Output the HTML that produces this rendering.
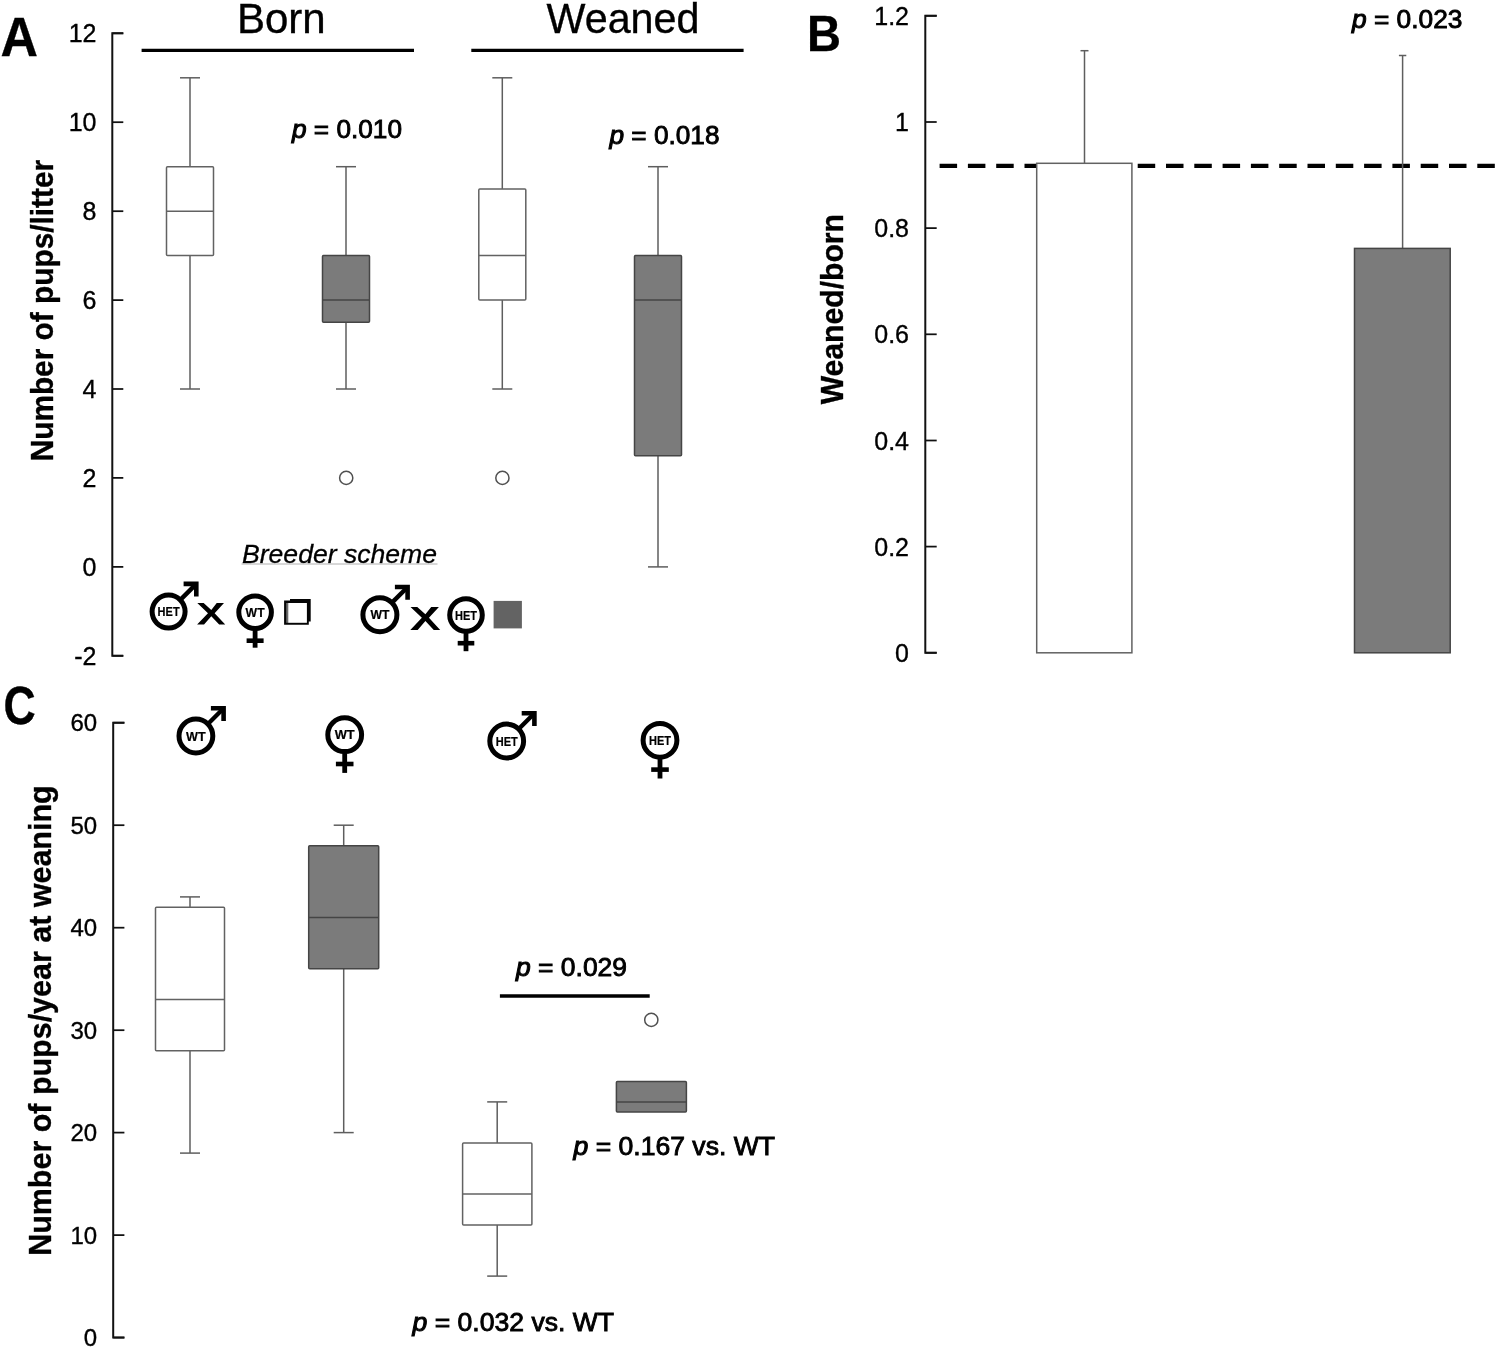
<!DOCTYPE html><html><head><meta charset="utf-8"><style>html,body{margin:0;padding:0;background:#fff;}svg{display:block;will-change:transform;}text{font-family:"Liberation Sans", sans-serif;fill:#000;stroke:#000;stroke-width:0.35px;}</style></head><body>
<svg width="1500" height="1351" viewBox="0 0 1500 1351">
<rect width="1500" height="1351" fill="#fff"/>
<text x="0.6" y="55.6" font-size="55" font-weight="bold" textLength="37.5" lengthAdjust="spacingAndGlyphs">A</text>
<path d="M123.3,33.3 H112.3 V655.8 H123.3" fill="none" stroke="#111" stroke-width="2.0"/>
<line x1="112.3" y1="655.8" x2="123.3" y2="655.8" stroke="#111" stroke-width="1.75"/>
<text x="96.5" y="664.8" font-size="25" text-anchor="end" font-weight="normal" font-style="normal" >-2</text>
<line x1="112.3" y1="566.9" x2="123.3" y2="566.9" stroke="#111" stroke-width="1.75"/>
<text x="96.5" y="575.9" font-size="25" text-anchor="end" font-weight="normal" font-style="normal" >0</text>
<line x1="112.3" y1="477.9" x2="123.3" y2="477.9" stroke="#111" stroke-width="1.75"/>
<text x="96.5" y="486.9" font-size="25" text-anchor="end" font-weight="normal" font-style="normal" >2</text>
<line x1="112.3" y1="389.0" x2="123.3" y2="389.0" stroke="#111" stroke-width="1.75"/>
<text x="96.5" y="398.0" font-size="25" text-anchor="end" font-weight="normal" font-style="normal" >4</text>
<line x1="112.3" y1="300.1" x2="123.3" y2="300.1" stroke="#111" stroke-width="1.75"/>
<text x="96.5" y="309.1" font-size="25" text-anchor="end" font-weight="normal" font-style="normal" >6</text>
<line x1="112.3" y1="211.2" x2="123.3" y2="211.2" stroke="#111" stroke-width="1.75"/>
<text x="96.5" y="220.2" font-size="25" text-anchor="end" font-weight="normal" font-style="normal" >8</text>
<line x1="112.3" y1="122.2" x2="123.3" y2="122.2" stroke="#111" stroke-width="1.75"/>
<text x="96.5" y="131.2" font-size="25" text-anchor="end" font-weight="normal" font-style="normal" >10</text>
<line x1="112.3" y1="33.3" x2="123.3" y2="33.3" stroke="#111" stroke-width="1.75"/>
<text x="96.5" y="42.3" font-size="25" text-anchor="end" font-weight="normal" font-style="normal" >12</text>
<text transform="translate(52.5,310.6) rotate(-90)" font-size="32" font-weight="bold" text-anchor="middle" textLength="301.5" lengthAdjust="spacingAndGlyphs">Number of pups/litter</text>
<text x="281.3" y="32.6" font-size="42" text-anchor="middle" font-weight="normal" font-style="normal" >Born</text>
<text x="623" y="33" font-size="42" text-anchor="middle" font-weight="normal" font-style="normal" textLength="153" lengthAdjust="spacingAndGlyphs">Weaned</text>
<line x1="141.6" y1="50.4" x2="414" y2="50.4" stroke="#000" stroke-width="3.4"/>
<line x1="471.3" y1="50.4" x2="743.6" y2="50.4" stroke="#000" stroke-width="3.4"/>
<line x1="190.0" y1="77.8" x2="190.0" y2="166.7" stroke="#5e5e5e" stroke-width="1.5"/>
<line x1="180.0" y1="77.8" x2="200.0" y2="77.8" stroke="#5e5e5e" stroke-width="1.5"/>
<line x1="190.0" y1="255.6" x2="190.0" y2="389.0" stroke="#5e5e5e" stroke-width="1.5"/>
<line x1="180.0" y1="389.0" x2="200.0" y2="389.0" stroke="#5e5e5e" stroke-width="1.5"/>
<rect x="166.5" y="166.7" width="47.0" height="88.9" fill="#ffffff" stroke="#626262" stroke-width="1.5" rx="1"/>
<line x1="166.5" y1="211.2" x2="213.5" y2="211.2" stroke="#626262" stroke-width="1.5"/>
<line x1="346.0" y1="166.7" x2="346.0" y2="255.6" stroke="#5e5e5e" stroke-width="1.5"/>
<line x1="336.0" y1="166.7" x2="356.0" y2="166.7" stroke="#5e5e5e" stroke-width="1.5"/>
<line x1="346.0" y1="322.3" x2="346.0" y2="389.0" stroke="#5e5e5e" stroke-width="1.5"/>
<line x1="336.0" y1="389.0" x2="356.0" y2="389.0" stroke="#5e5e5e" stroke-width="1.5"/>
<rect x="322.5" y="255.6" width="47.0" height="66.7" fill="#7b7b7b" stroke="#454545" stroke-width="1.5" rx="1"/>
<line x1="322.5" y1="300.1" x2="369.5" y2="300.1" stroke="#454545" stroke-width="1.5"/>
<line x1="502.3" y1="77.8" x2="502.3" y2="188.9" stroke="#5e5e5e" stroke-width="1.5"/>
<line x1="492.3" y1="77.8" x2="512.3" y2="77.8" stroke="#5e5e5e" stroke-width="1.5"/>
<line x1="502.3" y1="300.1" x2="502.3" y2="389.0" stroke="#5e5e5e" stroke-width="1.5"/>
<line x1="492.3" y1="389.0" x2="512.3" y2="389.0" stroke="#5e5e5e" stroke-width="1.5"/>
<rect x="478.8" y="188.9" width="47.0" height="111.2" fill="#ffffff" stroke="#626262" stroke-width="1.5" rx="1"/>
<line x1="478.8" y1="255.6" x2="525.8" y2="255.6" stroke="#626262" stroke-width="1.5"/>
<line x1="658.0" y1="166.7" x2="658.0" y2="255.6" stroke="#5e5e5e" stroke-width="1.5"/>
<line x1="648.0" y1="166.7" x2="668.0" y2="166.7" stroke="#5e5e5e" stroke-width="1.5"/>
<line x1="658.0" y1="455.7" x2="658.0" y2="566.9" stroke="#5e5e5e" stroke-width="1.5"/>
<line x1="648.0" y1="566.9" x2="668.0" y2="566.9" stroke="#5e5e5e" stroke-width="1.5"/>
<rect x="634.5" y="255.6" width="47.0" height="200.1" fill="#7b7b7b" stroke="#454545" stroke-width="1.5" rx="1"/>
<line x1="634.5" y1="300.1" x2="681.5" y2="300.1" stroke="#454545" stroke-width="1.5"/>
<circle cx="346.2" cy="477.9" r="6.6" fill="#fff" stroke="#505050" stroke-width="1.5"/>
<circle cx="502.4" cy="477.9" r="6.6" fill="#fff" stroke="#505050" stroke-width="1.5"/>
<text x="292" y="137.5" font-size="25" style="stroke-width:0.85px" textLength="110" lengthAdjust="spacingAndGlyphs"><tspan font-style="italic" style="stroke-width:1.0px">p</tspan> = 0.010</text>
<text x="609.5" y="144.3" font-size="25" style="stroke-width:0.85px" textLength="110" lengthAdjust="spacingAndGlyphs"><tspan font-style="italic" style="stroke-width:1.0px">p</tspan> = 0.018</text>
<text x="242" y="563" font-size="25" font-style="italic" style="stroke-width:0.3px" textLength="195" lengthAdjust="spacingAndGlyphs">Breeder scheme</text>
<line x1="241.5" y1="564" x2="437.5" y2="564" stroke="#b0b0b0" stroke-width="1"/>
<circle cx="168.6" cy="611.6" r="16.5" fill="#fff" stroke="#000" stroke-width="5.0"/>
<text x="168.6" y="616.1" font-size="12.5" font-weight="bold" text-anchor="middle" style="stroke-width:0.2px" textLength="22" lengthAdjust="spacingAndGlyphs">HET</text>
<line x1="181.3" y1="598.9" x2="195.6" y2="584.6" stroke="#000" stroke-width="4.4"/>
<path d="M183.6,581.6 H198.6 V596.6 H194.0 V586.2 H183.6 Z" fill="#000"/>
<path d="M197.30,603.10 L203.65,603.10 L211.29,609.95 L216.74,603.10 L223.99,603.10 L214.63,613.20 L225.20,624.50 L219.16,624.50 L211.29,616.18 L204.04,624.50 L197.10,624.50 L207.97,613.20 Z" fill="#000"/>
<circle cx="255.1" cy="612.2" r="16.3" fill="#fff" stroke="#000" stroke-width="5.0"/>
<text x="255.1" y="616.7" font-size="12.5" font-weight="bold" text-anchor="middle" style="stroke-width:0.2px" textLength="19" lengthAdjust="spacingAndGlyphs">WT</text>
<rect x="252.7" y="630.0" width="4.8" height="17.7" fill="#000"/>
<rect x="246.6" y="638.4" width="17" height="4.6" fill="#000"/>
<path d="M284.1,600.6 H290 V599.1 H310.7 V621.6 H308.8 V624.7 H284.1 Z" fill="#050505"/>
<rect x="286.2" y="603" width="2" height="19.8" fill="#6a6a6a"/>
<rect x="288.2" y="603" width="18.7" height="19.8" fill="#fff"/>
<circle cx="379.9" cy="614.7" r="17" fill="#fff" stroke="#000" stroke-width="5.0"/>
<text x="379.9" y="619.2" font-size="12.5" font-weight="bold" text-anchor="middle" style="stroke-width:0.2px" textLength="19" lengthAdjust="spacingAndGlyphs">WT</text>
<line x1="393.0" y1="601.6" x2="406.9" y2="587.7" stroke="#000" stroke-width="4.4"/>
<path d="M394.9,584.7 H409.9 V599.7 H405.3 V589.3 H394.9 Z" fill="#000"/>
<path d="M410.51,607.00 L417.27,607.00 L425.40,614.36 L431.20,607.00 L438.91,607.00 L428.96,617.86 L440.20,630.00 L433.77,630.00 L425.40,621.05 L417.69,630.00 L410.30,630.00 L421.87,617.86 Z" fill="#000"/>
<circle cx="466" cy="615" r="16.3" fill="#fff" stroke="#000" stroke-width="5.0"/>
<text x="466" y="619.5" font-size="12.5" font-weight="bold" text-anchor="middle" style="stroke-width:0.2px" textLength="22" lengthAdjust="spacingAndGlyphs">HET</text>
<rect x="463.6" y="632.8" width="4.8" height="18.4" fill="#000"/>
<rect x="457.7" y="640.9" width="16.6" height="4.6" fill="#000"/>
<rect x="493.6" y="600.9" width="28.3" height="27.5" fill="#636363"/>
<text x="807" y="50.5" font-size="50" font-weight="bold" textLength="34" lengthAdjust="spacingAndGlyphs">B</text>
<path d="M936.7,15.8 H925.3 V652.8 H936.7" fill="none" stroke="#111" stroke-width="2.0"/>
<line x1="925.3" y1="652.8" x2="936.7" y2="652.8" stroke="#111" stroke-width="1.75"/>
<text x="909" y="661.8" font-size="25" text-anchor="end" font-weight="normal" font-style="normal" >0</text>
<line x1="925.3" y1="546.6" x2="936.7" y2="546.6" stroke="#111" stroke-width="1.75"/>
<text x="909" y="555.6" font-size="25" text-anchor="end" font-weight="normal" font-style="normal" >0.2</text>
<line x1="925.3" y1="440.5" x2="936.7" y2="440.5" stroke="#111" stroke-width="1.75"/>
<text x="909" y="449.5" font-size="25" text-anchor="end" font-weight="normal" font-style="normal" >0.4</text>
<line x1="925.3" y1="334.3" x2="936.7" y2="334.3" stroke="#111" stroke-width="1.75"/>
<text x="909" y="343.3" font-size="25" text-anchor="end" font-weight="normal" font-style="normal" >0.6</text>
<line x1="925.3" y1="228.1" x2="936.7" y2="228.1" stroke="#111" stroke-width="1.75"/>
<text x="909" y="237.1" font-size="25" text-anchor="end" font-weight="normal" font-style="normal" >0.8</text>
<line x1="925.3" y1="122.0" x2="936.7" y2="122.0" stroke="#111" stroke-width="1.75"/>
<text x="909" y="131.0" font-size="25" text-anchor="end" font-weight="normal" font-style="normal" >1</text>
<line x1="925.3" y1="15.8" x2="936.7" y2="15.8" stroke="#111" stroke-width="1.75"/>
<text x="909" y="24.8" font-size="25" text-anchor="end" font-weight="normal" font-style="normal" >1.2</text>
<text transform="translate(843,309.2) rotate(-90)" font-size="32" font-weight="bold" text-anchor="middle" textLength="190.3" lengthAdjust="spacingAndGlyphs">Weaned/born</text>
<line x1="939.6" y1="165.9" x2="1497" y2="165.9" stroke="#000" stroke-width="4.3" stroke-dasharray="17.5 10.8"/>
<line x1="1084.5" y1="50.7" x2="1084.5" y2="163" stroke="#5e5e5e" stroke-width="1.5"/>
<line x1="1080.5" y1="50.7" x2="1088.5" y2="50.7" stroke="#5e5e5e" stroke-width="1.5"/>
<rect x="1036.7" y="163.3" width="95.2" height="489.5" fill="#fff" stroke="#626262" stroke-width="1.5"/>
<line x1="1402.6" y1="55.5" x2="1402.6" y2="248.4" stroke="#5e5e5e" stroke-width="1.5"/>
<line x1="1398.9" y1="55.5" x2="1406.3" y2="55.5" stroke="#5e5e5e" stroke-width="1.5"/>
<rect x="1354.5" y="248.4" width="95.7" height="404.4" fill="#7b7b7b" stroke="#454545" stroke-width="1.5"/>
<text x="1352" y="27.6" font-size="25" style="stroke-width:0.85px" textLength="110.5" lengthAdjust="spacingAndGlyphs"><tspan font-style="italic" style="stroke-width:1.0px">p</tspan> = 0.023</text>
<text x="3.6" y="724.2" font-size="54" font-weight="bold" textLength="32.2" lengthAdjust="spacingAndGlyphs">C</text>
<path d="M124.4,722.7 H113.2 V1337.6 H124.4" fill="none" stroke="#111" stroke-width="2.0"/>
<line x1="113.2" y1="1337.6" x2="124.4" y2="1337.6" stroke="#111" stroke-width="1.75"/>
<text x="97.2" y="1346.2" font-size="24" text-anchor="end" font-weight="normal" font-style="normal" >0</text>
<line x1="113.2" y1="1235.1" x2="124.4" y2="1235.1" stroke="#111" stroke-width="1.75"/>
<text x="97.2" y="1243.7" font-size="24" text-anchor="end" font-weight="normal" font-style="normal" >10</text>
<line x1="113.2" y1="1132.6" x2="124.4" y2="1132.6" stroke="#111" stroke-width="1.75"/>
<text x="97.2" y="1141.2" font-size="24" text-anchor="end" font-weight="normal" font-style="normal" >20</text>
<line x1="113.2" y1="1030.2" x2="124.4" y2="1030.2" stroke="#111" stroke-width="1.75"/>
<text x="97.2" y="1038.8" font-size="24" text-anchor="end" font-weight="normal" font-style="normal" >30</text>
<line x1="113.2" y1="927.7" x2="124.4" y2="927.7" stroke="#111" stroke-width="1.75"/>
<text x="97.2" y="936.3" font-size="24" text-anchor="end" font-weight="normal" font-style="normal" >40</text>
<line x1="113.2" y1="825.2" x2="124.4" y2="825.2" stroke="#111" stroke-width="1.75"/>
<text x="97.2" y="833.8" font-size="24" text-anchor="end" font-weight="normal" font-style="normal" >50</text>
<line x1="113.2" y1="722.7" x2="124.4" y2="722.7" stroke="#111" stroke-width="1.75"/>
<text x="97.2" y="731.3" font-size="24" text-anchor="end" font-weight="normal" font-style="normal" >60</text>
<text transform="translate(50.5,1020.6) rotate(-90)" font-size="32" font-weight="bold" text-anchor="middle" textLength="470.5" lengthAdjust="spacingAndGlyphs">Number of pups/year at weaning</text>
<line x1="190.0" y1="896.9" x2="190.0" y2="907.2" stroke="#5e5e5e" stroke-width="1.5"/>
<line x1="180.0" y1="896.9" x2="200.0" y2="896.9" stroke="#5e5e5e" stroke-width="1.5"/>
<line x1="190.0" y1="1050.7" x2="190.0" y2="1153.1" stroke="#5e5e5e" stroke-width="1.5"/>
<line x1="180.0" y1="1153.1" x2="200.0" y2="1153.1" stroke="#5e5e5e" stroke-width="1.5"/>
<rect x="155.5" y="907.2" width="69.0" height="143.5" fill="#ffffff" stroke="#626262" stroke-width="1.5" rx="1"/>
<line x1="155.5" y1="999.4" x2="224.5" y2="999.4" stroke="#626262" stroke-width="1.5"/>
<line x1="343.7" y1="825.2" x2="343.7" y2="845.7" stroke="#5e5e5e" stroke-width="1.5"/>
<line x1="333.7" y1="825.2" x2="353.7" y2="825.2" stroke="#5e5e5e" stroke-width="1.5"/>
<line x1="343.7" y1="968.7" x2="343.7" y2="1132.6" stroke="#5e5e5e" stroke-width="1.5"/>
<line x1="333.7" y1="1132.6" x2="353.7" y2="1132.6" stroke="#5e5e5e" stroke-width="1.5"/>
<rect x="308.7" y="845.7" width="70.0" height="123.0" fill="#7b7b7b" stroke="#454545" stroke-width="1.5" rx="1"/>
<line x1="308.7" y1="917.4" x2="378.7" y2="917.4" stroke="#454545" stroke-width="1.5"/>
<line x1="497.2" y1="1101.9" x2="497.2" y2="1142.9" stroke="#5e5e5e" stroke-width="1.5"/>
<line x1="487.2" y1="1101.9" x2="507.2" y2="1101.9" stroke="#5e5e5e" stroke-width="1.5"/>
<line x1="497.2" y1="1224.9" x2="497.2" y2="1276.1" stroke="#5e5e5e" stroke-width="1.5"/>
<line x1="487.2" y1="1276.1" x2="507.2" y2="1276.1" stroke="#5e5e5e" stroke-width="1.5"/>
<rect x="462.6" y="1142.9" width="69.3" height="82.0" fill="#ffffff" stroke="#626262" stroke-width="1.5" rx="1"/>
<line x1="462.6" y1="1194.1" x2="531.9" y2="1194.1" stroke="#626262" stroke-width="1.5"/>
<rect x="616.4" y="1081.4" width="70.0" height="30.7" fill="#7b7b7b" stroke="#454545" stroke-width="1.5" rx="1"/>
<line x1="616.4" y1="1101.9" x2="686.4" y2="1101.9" stroke="#454545" stroke-width="1.5"/>
<circle cx="651.3" cy="1019.9" r="6.6" fill="#fff" stroke="#505050" stroke-width="1.5"/>
<text x="516" y="976" font-size="25" style="stroke-width:0.85px" textLength="111" lengthAdjust="spacingAndGlyphs"><tspan font-style="italic" style="stroke-width:1.0px">p</tspan> = 0.029</text>
<line x1="499.9" y1="996" x2="649.7" y2="996" stroke="#000" stroke-width="3.6"/>
<text x="573.5" y="1154.5" font-size="25" style="stroke-width:0.85px" textLength="201.5" lengthAdjust="spacingAndGlyphs"><tspan font-style="italic" style="stroke-width:1.0px">p</tspan> = 0.167 vs. WT</text>
<text x="412.5" y="1330.9" font-size="25" style="stroke-width:0.85px" textLength="201.6" lengthAdjust="spacingAndGlyphs"><tspan font-style="italic" style="stroke-width:1.0px">p</tspan> = 0.032 vs. WT</text>
<circle cx="195.9" cy="736" r="16.9" fill="#fff" stroke="#000" stroke-width="5.0"/>
<text x="195.9" y="740.5" font-size="12.5" font-weight="bold" text-anchor="middle" style="stroke-width:0.2px" textLength="19.6" lengthAdjust="spacingAndGlyphs">WT</text>
<line x1="208.9" y1="723.0" x2="222.9" y2="709.0" stroke="#000" stroke-width="4.4"/>
<path d="M210.9,706.0 H225.9 V721.0 H221.3 V710.6 H210.9 Z" fill="#000"/>
<circle cx="344.7" cy="734.7" r="16.9" fill="#fff" stroke="#000" stroke-width="5.0"/>
<text x="344.7" y="739.2" font-size="12.5" font-weight="bold" text-anchor="middle" style="stroke-width:0.2px" textLength="20" lengthAdjust="spacingAndGlyphs">WT</text>
<rect x="342.3" y="753.1" width="4.8" height="19.8" fill="#000"/>
<rect x="335.9" y="761.7" width="17.6" height="4.6" fill="#000"/>
<circle cx="506.7" cy="741" r="16.9" fill="#fff" stroke="#000" stroke-width="5.0"/>
<text x="506.7" y="745.5" font-size="12.5" font-weight="bold" text-anchor="middle" style="stroke-width:0.2px" textLength="22" lengthAdjust="spacingAndGlyphs">HET</text>
<line x1="519.7" y1="728.0" x2="533.7" y2="714.0" stroke="#000" stroke-width="4.4"/>
<path d="M521.7,711.0 H536.7 V726.0 H532.1 V715.6 H521.7 Z" fill="#000"/>
<circle cx="660" cy="740.3" r="16.9" fill="#fff" stroke="#000" stroke-width="5.0"/>
<text x="660" y="744.8" font-size="12.5" font-weight="bold" text-anchor="middle" style="stroke-width:0.2px" textLength="22" lengthAdjust="spacingAndGlyphs">HET</text>
<rect x="657.6" y="758.7" width="4.8" height="19.8" fill="#000"/>
<rect x="651.2" y="767.3" width="17.6" height="4.6" fill="#000"/>
</svg></body></html>
